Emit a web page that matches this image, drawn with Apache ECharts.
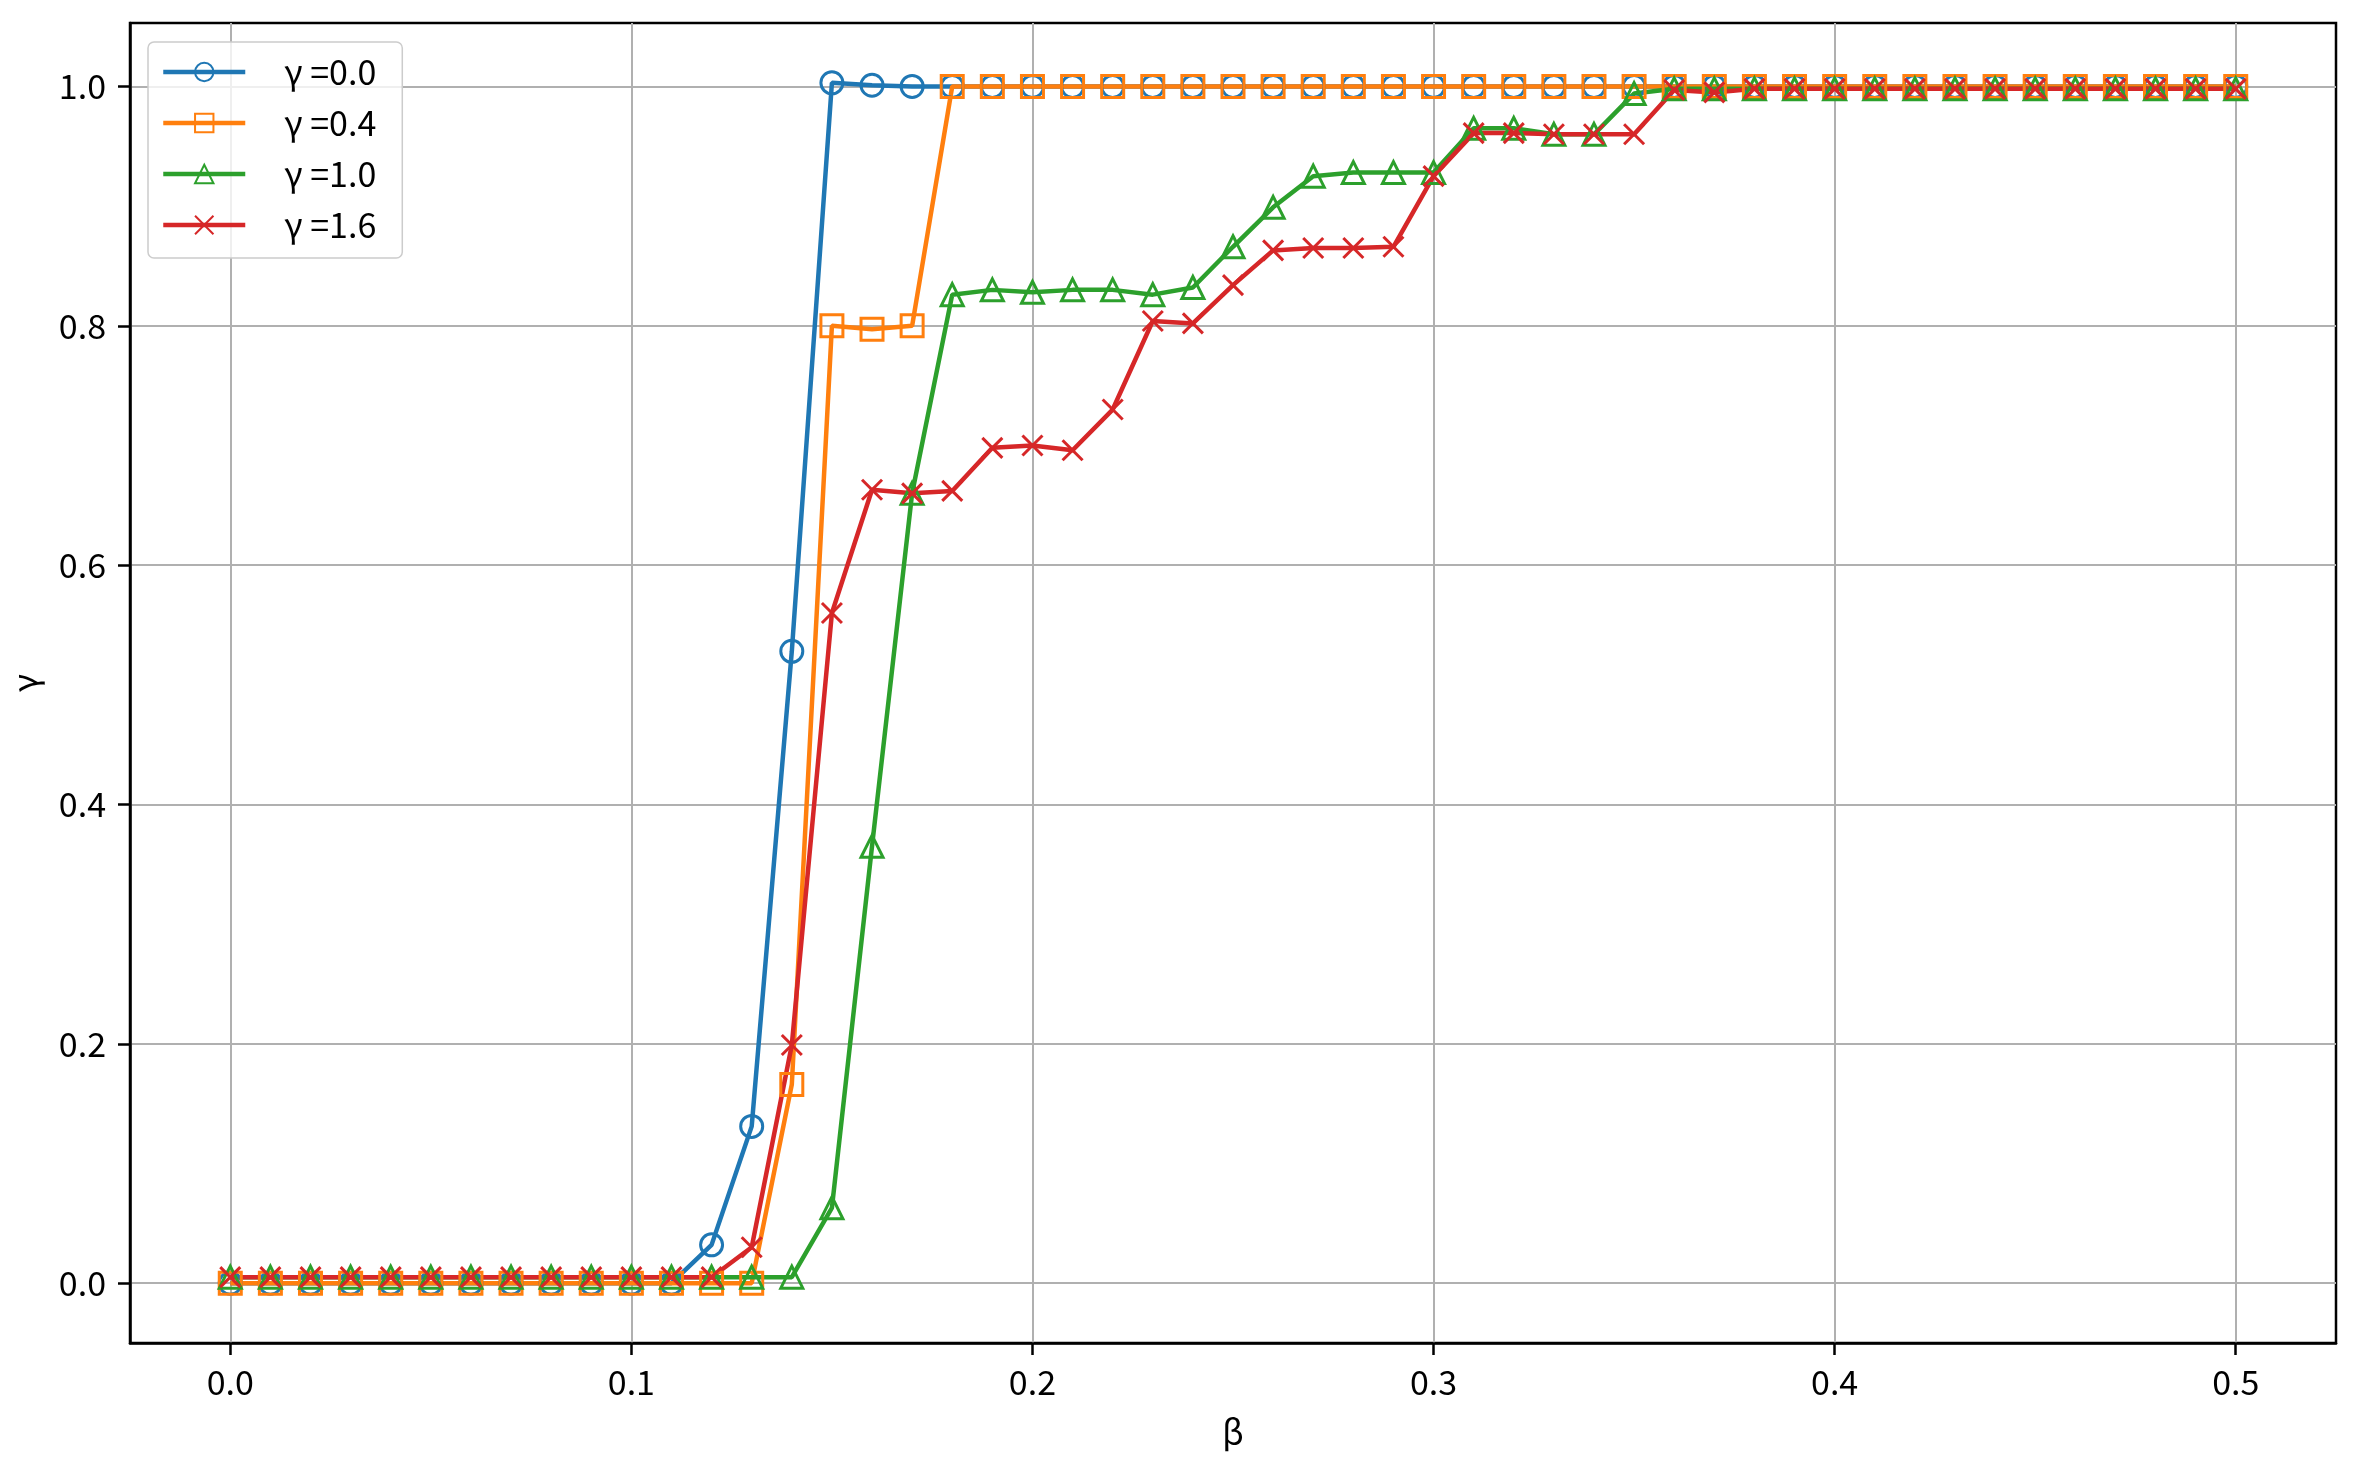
<!DOCTYPE html>
<html>
<head>
<meta charset="utf-8">
<script src="https://cdn.jsdelivr.net/npm/echarts@6/dist/echarts.min.js"></script>
<style>
  html, body { margin: 0; padding: 0; background: #fff; }
  #chart { width: 2366px; height: 1467px; }
</style>
</head>
<body>
<div id="chart"></div>
<script>
// beta values 0.00 .. 0.50
const betas = [
  0.00, 0.01, 0.02, 0.03, 0.04, 0.05, 0.06, 0.07, 0.08, 0.09,
  0.10, 0.11, 0.12, 0.13, 0.14, 0.15, 0.16, 0.17, 0.18, 0.19,
  0.20, 0.21, 0.22, 0.23, 0.24, 0.25, 0.26, 0.27, 0.28, 0.29,
  0.30, 0.31, 0.32, 0.33, 0.34, 0.35, 0.36, 0.37, 0.38, 0.39,
  0.40, 0.41, 0.42, 0.43, 0.44, 0.45, 0.46, 0.47, 0.48, 0.49, 0.50
];

const gamma00 = [
  0, 0, 0, 0, 0, 0, 0, 0, 0, 0,
  0, 0, 0.032, 0.131, 0.528, 1.003, 1.001, 1.0, 1.0, 1.0,
  1.0, 1.0, 1.0, 1.0, 1.0, 1.0, 1.0, 1.0, 1.0, 1.0,
  1.0, 1.0, 1.0, 1.0, 1.0, 1.0, 1.0, 1.0, 1.0, 1.0,
  1.0, 1.0, 1.0, 1.0, 1.0, 1.0, 1.0, 1.0, 1.0, 1.0, 1.0
];

const gamma04 = [
  0, 0, 0, 0, 0, 0, 0, 0, 0, 0,
  0, 0, 0, 0, 0.166, 0.800, 0.797, 0.800, 1.0, 1.0,
  1.0, 1.0, 1.0, 1.0, 1.0, 1.0, 1.0, 1.0, 1.0, 1.0,
  1.0, 1.0, 1.0, 1.0, 1.0, 1.0, 1.0, 1.0, 1.0, 1.0,
  1.0, 1.0, 1.0, 1.0, 1.0, 1.0, 1.0, 1.0, 1.0, 1.0, 1.0
];

const gamma10 = [
  0.005, 0.005, 0.005, 0.005, 0.005, 0.005, 0.005, 0.005, 0.005, 0.005,
  0.005, 0.005, 0.005, 0.005, 0.005, 0.063, 0.365, 0.660, 0.826, 0.830,
  0.828, 0.830, 0.830, 0.826, 0.832, 0.866, 0.899, 0.925, 0.928, 0.928,
  0.928, 0.965, 0.965, 0.960, 0.960, 0.994, 0.998, 0.998, 0.998, 0.998,
  0.998, 0.998, 0.998, 0.998, 0.998, 0.998, 0.998, 0.998, 0.998, 0.998, 0.998
];

const gamma16 = [
  0.005, 0.005, 0.005, 0.005, 0.005, 0.005, 0.005, 0.005, 0.005, 0.005,
  0.005, 0.005, 0.005, 0.030, 0.199, 0.560, 0.663, 0.660, 0.662, 0.698,
  0.700, 0.696, 0.730, 0.804, 0.802, 0.834, 0.863, 0.865, 0.865, 0.866,
  0.925, 0.961, 0.961, 0.960, 0.960, 0.960, 0.997, 0.995, 0.998, 0.998,
  0.998, 0.998, 0.998, 0.998, 0.998, 0.998, 0.998, 0.998, 0.998, 0.998, 0.998
];

const xTicks = [0, 0.1, 0.2, 0.3, 0.4, 0.5];
const yTicks = [0, 0.2, 0.4, 0.6, 0.8, 1.0];

const seriesNames = ['γ =0.0', 'γ =0.4', 'γ =1.0', 'γ =1.6'];
const seriesValues = [gamma00, gamma04, gamma10, gamma16];
const colors = ['#1f77b4', '#ff7f0e', '#2ca02c', '#d62728'];
const symbols = ['circle', 'rect', 'triangle', 'path://M0,0L10,10M10,0L0,10'];
const symbolSizes = [22, 22, 22, 20];

const font = '"Noto Sans CJK SC", "DejaVu Sans", sans-serif';
const fontSize = 34;

const chart = echarts.init(document.getElementById('chart'));

const series = seriesNames.map((name, i) => ({
  name: name,
  type: 'line',
  data: betas.map((b, j) => [b, seriesValues[i][j]]),
  symbol: symbols[i],
  symbolSize: symbolSizes[i],
  showAllSymbol: true,
  clip: false,
  lineStyle: { color: colors[i], width: 4.5 },
  itemStyle: { color: 'rgba(255,255,255,0)', borderColor: colors[i], borderWidth: 3 },
  emphasis: { disabled: true }
}));

const axisCommon = {
  type: 'value',
  nameLocation: 'middle',
  nameTextStyle: { fontFamily: font, fontSize: fontSize, color: '#000' },
  axisLine: { show: true, onZero: false, lineStyle: { color: '#000', width: 2.5 } },
  splitLine: { show: true, lineStyle: { color: '#b0b0b0', width: 2 } }
};

const option = {
  animation: false,
  backgroundColor: '#fff',
  grid: {
    left: 130,
    right: 30,
    top: 23,
    bottom: 124,
    show: true,
    borderColor: '#000',
    borderWidth: 2.5,
    backgroundColor: 'transparent'
  },
  legend: {
    orient: 'vertical',
    left: 148,
    top: 42,
    padding: [13, 26, 16, 13],
    itemWidth: 82,
    itemHeight: 23,
    itemGap: 17,
    backgroundColor: 'rgba(255,255,255,0.8)',
    borderColor: '#cccccc',
    borderWidth: 1.5,
    borderRadius: 6,
    lineStyle: { width: 4.5 },
    textStyle: { fontFamily: font, fontSize: fontSize, color: '#000', padding: [0, 0, 0, 34] },
    data: seriesNames
  },
  xAxis: Object.assign({}, axisCommon, {
    min: -0.025,
    max: 0.525,
    name: 'β',
    nameGap: 72,
    axisTick: {
      show: true,
      customValues: xTicks,
      length: 12,
      lineStyle: { color: '#000', width: 2.5 }
    },
    axisLabel: {
      customValues: xTicks,
      formatter: v => v.toFixed(1),
      margin: 22,
      fontFamily: font,
      fontSize: fontSize,
      color: '#000'
    }
  }),
  yAxis: Object.assign({}, axisCommon, {
    min: -0.05,
    max: 1.053,
    name: 'γ',
    nameGap: 88,
    nameRotate: 90,
    axisTick: {
      show: true,
      customValues: yTicks,
      length: 12,
      lineStyle: { color: '#000', width: 2.5 }
    },
    axisLabel: {
      customValues: yTicks,
      formatter: v => v.toFixed(1),
      margin: 24,
      fontFamily: font,
      fontSize: fontSize,
      color: '#000'
    }
  }),
  series: series
};

chart.setOption(option);
window.addEventListener('resize', function () {
  chart.resize();
});
</script>
</body>
</html>
